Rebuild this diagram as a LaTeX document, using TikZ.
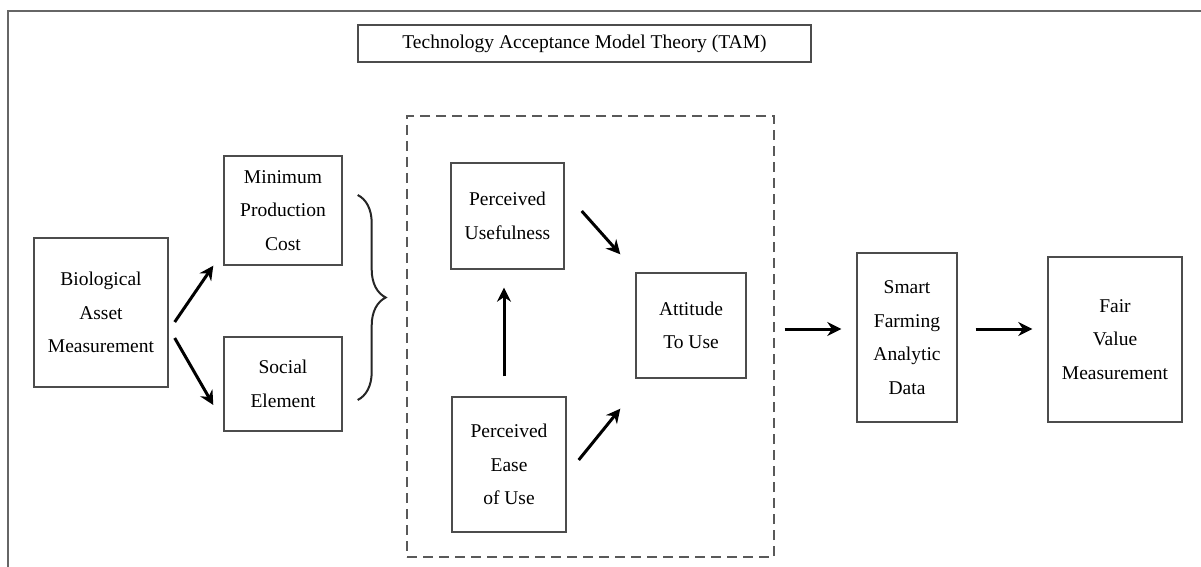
\documentclass[tikz,border=0pt]{standalone}
\usepackage{fontspec}
\setmainfont{Liberation Serif}
\usepackage{tikz}
\usetikzlibrary{arrows.meta, calc, decorations.pathreplacing}

\begin{document}
\begin{tikzpicture}[x=0.5pt, y=-0.5pt, >=Stealth,
  box/.style={draw=black!70, line width=0.7pt, align=center, inner sep=0pt,
    font=\fontsize{9.75}{16.75}\selectfont, text=black},
  arr/.style={->, line width=1.5pt, -{Stealth[length=7pt, width=7pt]}}]
\useasboundingbox (0,0) rectangle (1201,567);
\draw[black!60, line width=0.8pt] (8,567) -- (8,11) -- (1201,11);
\node[box, minimum width=226.5pt, minimum height=18.5pt] (tam title) at (584.5,43.5) {Technology Acceptance Model Theory (TAM)};

% left part
\node[box, minimum width=67pt, minimum height=74.5pt] (bio) at (101,312.5) {Biological\\Asset\\Measurement};
\node[box, minimum width=59pt, minimum height=54.5pt] (min) at (283,210.5) {Minimum\\Production\\Cost};
\node[box, minimum width=59pt, minimum height=47pt] (soc) at (283,384) {Social\\Element};
\draw[arr] ($(bio.east)+(6,9.5)$) -- ($(min.south west)+(-10,0)$);
\draw[arr] ($(bio.east)+(6,25.5)$) -- ($(soc.west)+(-10,21)$);
\coordinate (brace top) at ($(min.east)+(15,-15.5)$);
\coordinate (brace bot) at ($(soc.east)+(15,16)$);
\draw[black!85, line width=1pt, decorate, decoration={brace, amplitude=14pt}] (brace top) -- (brace bot);

% TAM block
\node[draw=black!65, line width=0.7pt, dash pattern=on 5pt off 3pt, minimum width=183.5pt, minimum height=220.5pt] (tam) at (590.5,336.5) {};
\node[box, minimum width=56.5pt, minimum height=53pt] (pu) at (507.5,216) {Perceived\\Usefulness};
\node[box, minimum width=57pt, minimum height=67.5pt] (peou) at (509,464.5) {Perceived\\Ease\\of Use};
\node[box, minimum width=55pt, minimum height=52.5pt] (atu) at (691,325.5) {Attitude\\To Use};
\draw[arr] ($(peou.north)+(-5,-20)$) -- ($(pu.south)+(-3.5,18)$);
\draw[arr] ($(pu.east)+(17,-5)$) -- ($(atu.north west)+(-15,-18)$);
\draw[arr] ($(peou.east)+(12,-4.5)$) -- ($(atu.south west)+(-15,30)$);

% right part
\node[box, minimum width=50pt, minimum height=84.5pt] (smart) at (907,337.5) {Smart\\Farming\\Analytic\\Data};
\node[box, minimum width=67pt, minimum height=82.5pt] (fair) at (1115,339.5) {Fair\\Value\\Measurement};
\draw[arr] ($(tam.east)+(10,-7.5)$) -- ($(smart.west)+(-15,-8.5)$);
\draw[arr] ($(smart.east)+(18,-8.5)$) -- ($(fair.west)+(-15,-10.5)$);
\end{tikzpicture}
\end{document}
